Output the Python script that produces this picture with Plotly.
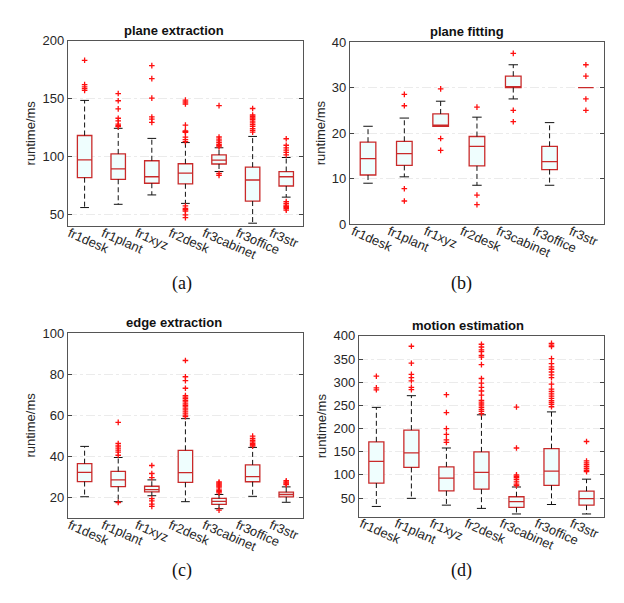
import plotly.graph_objects as go

categories = ["fr1desk", "fr1plant", "fr1xyz", "fr2desk", "fr3cabinet", "fr3office", "fr3str"]

# ---- (a) plane extraction ----
a_q1 = [81.7, 80.3, 76.9, 76.4, 93.5, 61.5, 74.5]
a_med = [97.1, 89.3, 82.5, 85.6, 96.8, 79.7, 82.5]
a_q3 = [118.1, 102.2, 96.3, 93.7, 101.3, 90.8, 87.0]
a_lo = [55.9, 58.7, 66.8, 59.5, 87.0, 42.4, 64.9]
a_hi = [148.4, 124.3, 115.6, 112.0, 107.5, 117.3, 99.1]
a_out = [
    [183, 162, 160, 158.5, 157],
    [154.3, 148.1, 141.1, 133, 130.7, 128, 126.5, 125.7],
    [178.4, 167.2, 150.4, 134.1, 132.2, 129.4],
    [148.7, 147, 145.3, 127.1, 122.1, 121.5, 120.9, 116.7, 114.5, 112.8, 57.3, 55.1, 54, 52.8, 49.5, 47.2],
    [143.9, 116.8, 115, 113.5, 112, 110.5, 109.3, 108.3, 85.3, 83.6],
    [141.4, 135.8, 134.5, 133.2, 132, 130.5, 129, 127.5, 126, 124, 122.5, 121],
    [115.3, 109.7, 107.5, 105.5, 103.5, 101.3, 61, 59.5, 58, 57, 56, 55, 53.6],
]

# ---- (b) plane fitting ----
b_q1 = [10.8, 12.9, 21.5, 12.8, 30.0, 12.0, 30.0]
b_med = [14.4, 15.5, 21.5, 17.1, 30.0, 13.75, 30.0]
b_q3 = [18.0, 18.2, 24.2, 19.25, 32.5, 17.1, 30.0]
b_lo = [9.0, 10.4, 21.5, 8.55, 27.5, 8.55, 30.0]
b_hi = [21.5, 23.3, 27.0, 23.5, 35.0, 22.3, 30.0]
b_out = [
    [],
    [28.5, 26.0, 7.8, 5.1],
    [29.7, 18.8, 16.2],
    [25.7, 6.4, 4.3],
    [37.5, 25.0, 22.5],
    [],
    [35.0, 32.5, 27.5, 25.0],
]

# ---- (c) edge extraction ----
c_q1 = [27.7, 25.2, 22.7, 27.3, 16.6, 27.6, 20.2]
c_med = [32.2, 28.5, 23.8, 32.0, 18.0, 30.1, 21.4]
c_q3 = [36.4, 32.6, 25.4, 42.9, 19.5, 35.8, 22.5]
c_lo = [20.3, 17.9, 20.8, 17.9, 14.5, 20.5, 17.6]
c_hi = [44.8, 39.4, 28.5, 58.3, 21.4, 44.3, 25.1]
c_out = [
    [],
    [56.5, 46.2, 45.0, 44.0, 43.0, 42.0, 40.5, 17.5],
    [35.5, 31.6, 29.6, 19.4, 18.3, 16.7, 15.6],
    [86.6, 78.7, 76.8, 73.1, 69.5, 68.8, 68.0, 67.2, 66.5, 65.5, 64.8, 64.0, 63.0, 62.0, 61.0, 60.0, 59.3],
    [27.5, 27.0, 26.5, 26.0, 25.5, 25.0, 24.0, 23.3, 22.8, 22.2, 13.8],
    [49.8, 48.7, 47.8, 47.0, 46.3, 45.6, 45.0],
    [28.1, 27.5, 27.0, 26.6, 26.2],
]

# ---- (d) motion estimation ----
d_q1 = [82.3, 116.0, 65.4, 69.0, 29.6, 77.4, 34.6]
d_med = [129.3, 147.5, 92.8, 105.4, 42.3, 108.2, 48.6]
d_q3 = [171.3, 196.6, 117.3, 149.6, 52.8, 156.6, 64.7]
d_lo = [31.8, 49.3, 34.6, 27.6, 15.6, 36.0, 15.6]
d_hi = [245.7, 270.9, 158.0, 229.6, 73.8, 235.9, 90.7]
d_out = [
    [313, 287.8, 283.6],
    [377.6, 341, 317, 310, 303, 289, 284],
    [273, 234.5, 200, 187.5, 175.6, 170],
    [382, 376, 370, 366, 358, 354, 338, 308, 298, 289, 281, 272, 261, 257, 253, 249, 245, 241, 237, 232],
    [246.4, 158, 100, 97, 94, 90, 85, 80, 77],
    [384, 380, 377, 351, 340, 333, 328, 322, 316, 310, 296, 285, 280, 275, 270, 265, 260, 256, 252, 247],
    [172, 130, 126, 122, 118, 114, 110, 107],
]

titles = ["plane extraction", "plane fitting", "edge extraction", "motion estimation"]
captions = ["(a)", "(b)", "(c)", "(d)"]
y_ranges = [[40, 200], [0, 40], [10, 100], [10, 400]]
y_ticks = [[50, 100, 150, 200], [0, 10, 20, 30, 40], [20, 40, 60, 80, 100],
           [50, 100, 150, 200, 250, 300, 350, 400]]

panels = [
    (a_q1, a_med, a_q3, a_lo, a_hi, a_out),
    (b_q1, b_med, b_q3, b_lo, b_hi, b_out),
    (c_q1, c_med, c_q3, c_lo, c_hi, c_out),
    (d_q1, d_med, d_q3, d_lo, d_hi, d_out),
]

OFF = 8  # page body margin
W, H = 624 - 2 * OFF, 603 - 2 * OFF
# plot areas in page pixels: (left, right, top, bottom)
areas = [(66, 302, 34.3, 224.5), (349, 604, 35.7, 222.7),
         (66, 302, 334.3, 524.1), (358, 604, 337.3, 522.7)]
title_x = [172.5, 467, 172.5, 468]
cap_pos = [(180.5, 284), (461, 284), (180.5, 578), (461, 578)]

BOX_RED = "#c92a2a"
FILL = "#effefe"
OUT_RED = "#ff1010"
BOX_W = 0.43
CAP_HW = 0.13


def px_x(p):
    return (p - OFF) / W


def px_y(p):
    return 1 - (p - OFF) / H


fig = go.Figure()
xs = list(range(1, len(categories) + 1))

for k, (q1, med, q3, lo, hi, outs) in enumerate(panels):
    xa = "x" if k == 0 else f"x{k+1}"
    ya = "y" if k == 0 else f"y{k+1}"
    wx, wy = [], []
    for i, x in enumerate(xs):
        if hi[i] > q3[i]:
            wx += [x, x, None]; wy += [q3[i], hi[i], None]
        if lo[i] < q1[i]:
            wx += [x, x, None]; wy += [q1[i], lo[i], None]
    fig.add_trace(go.Scatter(x=wx, y=wy, mode="lines", xaxis=xa, yaxis=ya,
                             line=dict(color="#111111", width=1, dash="5px,3px"),
                             showlegend=False, hoverinfo="skip"))
    cx, cy = [], []
    for i, x in enumerate(xs):
        if hi[i] > q3[i]:
            cx += [x - CAP_HW, x + CAP_HW, None]; cy += [hi[i], hi[i], None]
        if lo[i] < q1[i]:
            cx += [x - CAP_HW, x + CAP_HW, None]; cy += [lo[i], lo[i], None]
    fig.add_trace(go.Scatter(x=cx, y=cy, mode="lines", xaxis=xa, yaxis=ya,
                             line=dict(color="#111111", width=1),
                             showlegend=False, hoverinfo="skip"))
    fig.add_trace(go.Box(x=xs, q1=q1, median=med, q3=q3, lowerfence=q1, upperfence=q3,
                         xaxis=xa, yaxis=ya, width=BOX_W, whiskerwidth=0,
                         fillcolor=FILL, line=dict(color=BOX_RED, width=1.3),
                         showlegend=False, hoverinfo="skip", boxpoints=False))
    ox, oy = [], []
    for i, x in enumerate(xs):
        for v in outs[i]:
            ox.append(x); oy.append(v)
    fig.add_trace(go.Scatter(x=ox, y=oy, mode="markers", xaxis=xa, yaxis=ya,
                             marker=dict(symbol="cross-thin", size=4, color=OUT_RED,
                                         line=dict(color=OUT_RED, width=1.3)),
                             showlegend=False, hoverinfo="skip"))

layout = dict(width=W, height=H, margin=dict(l=0, r=0, t=0, b=0),
              paper_bgcolor="white", plot_bgcolor="white",
              font=dict(family="Liberation Sans, Arial, sans-serif", size=13, color="#262626"))
annotations = []
for k in range(4):
    l, r, t, b = areas[k]
    sx = "xaxis" if k == 0 else f"xaxis{k+1}"
    sy = "yaxis" if k == 0 else f"yaxis{k+1}"
    ya = "y" if k == 0 else f"y{k+1}"
    xa = "x" if k == 0 else f"x{k+1}"
    layout[sx] = dict(domain=[px_x(l), px_x(r)], anchor=ya, range=[0.5, 7.5],
                      tickmode="array", tickvals=xs, ticktext=categories,
                      tickangle=24, ticks="", showline=True, mirror=True,
                      linecolor="#555555", linewidth=1, showgrid=False, zeroline=False,
                      tickfont=dict(size=13, color="#262626"),
                      ticklabelshift=-15, ticklabelstandoff=-6)
    layout[sy] = dict(domain=[px_y(b), px_y(t)], anchor=xa, range=y_ranges[k],
                      tickmode="array", tickvals=y_ticks[k],
                      ticks="inside", ticklen=4, tickcolor="#444444",
                      showline=True, mirror="ticks", linecolor="#555555", linewidth=1,
                      showgrid=True, gridcolor="#ebebeb", griddash="dashdot", gridwidth=1,
                      zeroline=False, tickfont=dict(size=13, color="#262626"),
                      title=dict(text="runtime/ms", font=dict(size=13, color="#262626"), standoff=3))
    annotations.append(dict(text=f"<b>{titles[k]}</b>", xref="paper", yref="paper",
                            x=px_x(title_x[k]), y=px_y(t), xanchor="center", yanchor="bottom",
                            yshift=1, showarrow=False, font=dict(size=13, color="#111111")))
    cx, cy = cap_pos[k]
    annotations.append(dict(text=captions[k], xref="paper", yref="paper",
                            x=px_x(cx), y=px_y(cy), xanchor="center", yanchor="middle",
                            showarrow=False,
                            font=dict(family="Liberation Serif, Times New Roman, serif", size=18, color="#111111")))
layout["annotations"] = annotations
fig.update_layout(**layout)
fig.write_html("out.html")
